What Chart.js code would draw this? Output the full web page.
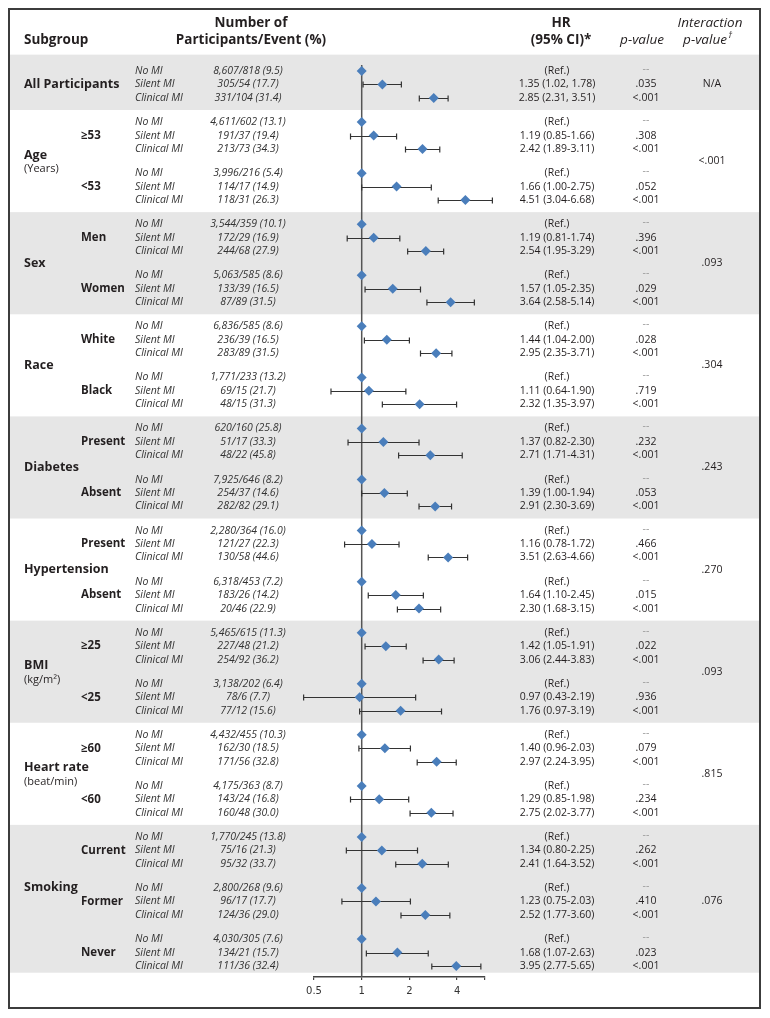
<!DOCTYPE html>
<html>
<head>
<meta charset="utf-8">
<script src="https://cdn.jsdelivr.net/npm/chart.js@4.4.1/dist/chart.umd.min.js"></script>
<style>
  html, body { margin: 0; padding: 0; background: #fff; }
  #wrap { width: 770px; height: 1018px; position: relative; }
</style>
</head>
<body>
<div id="wrap"><canvas id="forest"></canvas></div>
<script>
// --- DATA ---
const sections = ["All Participants", "Age", "Sex", "Race", "Diabetes", "Hypertension", "BMI", "Heart rate", "Smoking"];
const sectionUnits = ["", "(Years)", "", "", "", "", "(kg/m²)", "(beat/min)", ""];
const interactionP = ["N/A", "<.001", ".093", ".304", ".243", ".270", ".093", ".815", ".076"];

const subgroups = ["", "≥53", "<53", "Men", "Women", "White", "Black", "Present", "Absent",
                   "Present", "Absent", "≥25", "<25", "≥60", "<60", "Current", "Former", "Never"];
const subgroupSection = [0, 1, 1, 2, 2, 3, 3, 4, 4, 5, 5, 6, 6, 7, 7, 8, 8, 8];
const miTypes = ["No MI", "Silent MI", "Clinical MI"];

const participants = [
  "8,607/818 (9.5)", "305/54 (17.7)", "331/104 (31.4)",
  "4,611/602 (13.1)", "191/37 (19.4)", "213/73 (34.3)",
  "3,996/216 (5.4)", "114/17 (14.9)", "118/31 (26.3)",
  "3,544/359 (10.1)", "172/29 (16.9)", "244/68 (27.9)",
  "5,063/585 (8.6)", "133/39 (16.5)", "87/89 (31.5)",
  "6,836/585 (8.6)", "236/39 (16.5)", "283/89 (31.5)",
  "1,771/233 (13.2)", "69/15 (21.7)", "48/15 (31.3)",
  "620/160 (25.8)", "51/17 (33.3)", "48/22 (45.8)",
  "7,925/646 (8.2)", "254/37 (14.6)", "282/82 (29.1)",
  "2,280/364 (16.0)", "121/27 (22.3)", "130/58 (44.6)",
  "6,318/453 (7.2)", "183/26 (14.2)", "20/46 (22.9)",
  "5,465/615 (11.3)", "227/48 (21.2)", "254/92 (36.2)",
  "3,138/202 (6.4)", "78/6 (7.7)", "77/12 (15.6)",
  "4,432/455 (10.3)", "162/30 (18.5)", "171/56 (32.8)",
  "4,175/363 (8.7)", "143/24 (16.8)", "160/48 (30.0)",
  "1,770/245 (13.8)", "75/16 (21.3)", "95/32 (33.7)",
  "2,800/268 (9.6)", "96/17 (17.7)", "124/36 (29.0)",
  "4,030/305 (7.6)", "134/21 (15.7)", "111/36 (32.4)"
];

const hazardRatio = [
  1, 1.35, 2.85,  1, 1.19, 2.42,  1, 1.66, 4.51,
  1, 1.19, 2.54,  1, 1.57, 3.64,  1, 1.44, 2.95,
  1, 1.11, 2.32,  1, 1.37, 2.71,  1, 1.39, 2.91,
  1, 1.16, 3.51,  1, 1.64, 2.30,  1, 1.42, 3.06,
  1, 0.97, 1.76,  1, 1.40, 2.97,  1, 1.29, 2.75,
  1, 1.34, 2.41,  1, 1.23, 2.52,  1, 1.68, 3.95
];
const ciLower = [
  null, 1.02, 2.31,  null, 0.85, 1.89,  null, 1.00, 3.04,
  null, 0.81, 1.95,  null, 1.05, 2.58,  null, 1.04, 2.35,
  null, 0.64, 1.35,  null, 0.82, 1.71,  null, 1.00, 2.30,
  null, 0.78, 2.63,  null, 1.10, 1.68,  null, 1.05, 2.44,
  null, 0.43, 0.97,  null, 0.96, 2.24,  null, 0.85, 2.02,
  null, 0.80, 1.64,  null, 0.75, 1.77,  null, 1.07, 2.77
];
const ciUpper = [
  null, 1.78, 3.51,  null, 1.66, 3.11,  null, 2.75, 6.68,
  null, 1.74, 3.29,  null, 2.35, 5.14,  null, 2.00, 3.71,
  null, 1.90, 3.97,  null, 2.30, 4.31,  null, 1.94, 3.69,
  null, 1.72, 4.66,  null, 2.45, 3.15,  null, 1.91, 3.83,
  null, 2.19, 3.19,  null, 2.03, 3.95,  null, 1.98, 3.77,
  null, 2.25, 3.52,  null, 2.03, 3.60,  null, 2.63, 5.65
];
const pValues = [
  "--", ".035", "<.001",  "--", ".308", "<.001",  "--", ".052", "<.001",
  "--", ".396", "<.001",  "--", ".029", "<.001",  "--", ".028", "<.001",
  "--", ".719", "<.001",  "--", ".232", "<.001",  "--", ".053", "<.001",
  "--", ".466", "<.001",  "--", ".015", "<.001",  "--", ".022", "<.001",
  "--", ".936", "<.001",  "--", ".079", "<.001",  "--", ".234", "<.001",
  "--", ".262", "<.001",  "--", ".410", "<.001",  "--", ".023", "<.001"
];

const xTickValues = [0.5, 1, 2, 4];
const xAxisEnd = 6;

// --- LAYOUT HELPERS ---
const GROUP_STRIDE = 3.8;          // 3 rows + gap between subgroups
const rowPos = i => Math.floor(i / 3) * GROUP_STRIDE + (i % 3);
const lastRow = rowPos(hazardRatio.length - 1);

const SANS = '"Open Sans", "Noto Sans", sans-serif';
const INK = "#231f20";

function hrLabel(i) {
  if (ciLower[i] === null) return "(Ref.)";
  const sep = Math.floor(i / 3) === 0 ? ", " : "-";
  return `${hazardRatio[i].toFixed(2)} (${ciLower[i].toFixed(2)}${sep}${ciUpper[i].toFixed(2)})`;
}

function put(ctx, str, x, y, font, align = "left", color = INK) {
  ctx.font = font;
  ctx.fillStyle = color;
  ctx.textAlign = align;
  ctx.textBaseline = "middle";
  ctx.fillText(str, x, y);
}

function sectionGroups(s) {
  return subgroupSection.map((sec, g) => sec === s ? g : -1).filter(g => g >= 0);
}

// --- TABLE PLUGIN ---
const forestTable = {
  id: "forestTable",
  beforeDraw(chart) {
    const { ctx, scales: { y } } = chart;
    ctx.save();
    ctx.fillStyle = "#fff";
    ctx.fillRect(0, 0, chart.width, chart.height);

    // alternating section bands
    sections.forEach((name, s) => {
      if (s % 2) return;
      const groups = sectionGroups(s);
      const first = rowPos(groups[0] * 3);
      const last = rowPos(groups[groups.length - 1] * 3 + 2);
      const top = y.getPixelForValue(s === 0 ? first - 1.22 : first - 0.9);
      const bottom = y.getPixelForValue(s === sections.length - 1 ? last + 0.5 : last + 0.9);
      ctx.fillStyle = "#e6e6e6";
      ctx.fillRect(10, top, 749, bottom - top);
    });

    // frame
    ctx.strokeStyle = "#3c3c3c";
    ctx.lineWidth = 2;
    ctx.strokeRect(9, 9, 751, 999);
    ctx.restore();
  },
  beforeDatasetsDraw(chart) {
    const { ctx, chartArea, scales: { x, y } } = chart;
    ctx.save();
    // reference line at HR = 1
    const x1 = x.getPixelForValue(1);
    ctx.strokeStyle = "#555";
    ctx.lineWidth = 1.5;
    ctx.beginPath();
    ctx.moveTo(x1, chartArea.top);
    ctx.lineTo(x1, chartArea.bottom);
    ctx.stroke();

    // confidence intervals
    ctx.strokeStyle = "#333";
    ctx.lineWidth = 1.2;
    hazardRatio.forEach((v, i) => {
      if (ciLower[i] === null) return;
      const py = Math.round(y.getPixelForValue(rowPos(i))) + 0.5;
      const a = x.getPixelForValue(ciLower[i]);
      const b = x.getPixelForValue(ciUpper[i]);
      ctx.beginPath();
      ctx.moveTo(a, py); ctx.lineTo(b, py);
      ctx.moveTo(a, py - 3); ctx.lineTo(a, py + 3);
      ctx.moveTo(b, py - 3); ctx.lineTo(b, py + 3);
      ctx.stroke();
    });
    ctx.restore();
  },
  afterDraw(chart) {
    const { ctx, scales: { y } } = chart;
    ctx.save();

    // header
    const hBold = `bold 13.5px ${SANS}`, hItal = `italic 13.5px ${SANS}`;
    put(ctx, "Subgroup", 24, 40, hBold);
    put(ctx, "Number of", 251, 23, hBold, "center");
    put(ctx, "Participants/Event (%)", 251, 40, hBold, "center");
    put(ctx, "HR", 561, 23, hBold, "center");
    put(ctx, "(95% CI)*", 561, 40, hBold, "center");
    put(ctx, "p-value", 642, 40, hItal, "center");
    put(ctx, "Interaction", 710, 23, hItal, "center");
    ctx.font = hItal;
    const pw = ctx.measureText("p-value").width;
    put(ctx, "p-value", 705 - pw / 2, 40, hItal, "left");
    put(ctx, "†", 705 + pw / 2 + 1, 35, `italic 9px ${SANS}`, "left");

    // section labels + interaction p
    sections.forEach((name, s) => {
      const groups = sectionGroups(s);
      const mids = groups.map(g => y.getPixelForValue(rowPos(g * 3 + 1)));
      const rowsMid = mids.reduce((a, b) => a + b, 0) / mids.length;
      const mid = groups.length === 3 ? rowsMid - 14 : rowsMid;
      if (sectionUnits[s]) {
        put(ctx, name, 24, mid - 6, `bold 12.5px ${SANS}`);
        put(ctx, sectionUnits[s], 24, mid + 8, `11px ${SANS}`);
      } else {
        put(ctx, name, 24, mid, `bold 12.5px ${SANS}`);
      }
      put(ctx, interactionP[s], 712, rowsMid, `10.5px ${SANS}`, "center");
    });

    // subgroup labels
    subgroups.forEach((lab, g) => {
      if (!lab) return;
      put(ctx, lab, 81, y.getPixelForValue(rowPos(g * 3 + 1)), `bold 11.5px ${SANS}`);
    });

    // row texts
    participants.forEach((p, i) => {
      const py = y.getPixelForValue(rowPos(i));
      put(ctx, miTypes[i % 3], 135, py, `italic 10.5px ${SANS}`, "left", "#333");
      put(ctx, p, 248, py, `italic 10.5px ${SANS}`, "center", "#333");
      put(ctx, hrLabel(i), 557, py, `10.5px ${SANS}`, "center");
      if (pValues[i] === "--") {
        put(ctx, "--", 646, py - 2, `10.5px ${SANS}`, "center", "#999");
      } else {
        put(ctx, pValues[i], 646, py, `10.5px ${SANS}`, "center");
      }
    });
    ctx.restore();
  }
};

// --- CHART ---
new Chart(document.getElementById("forest"), {
  type: "scatter",
  data: {
    datasets: [{
      data: hazardRatio.map((v, i) => ({ x: v, y: rowPos(i) })),
      pointStyle: "rectRot",
      pointRadius: 5,
      pointHoverRadius: 5,
      backgroundColor: "#4a7ebb",
      borderWidth: 0,
      clip: false
    }]
  },
  options: {
    responsive: true,
    maintainAspectRatio: false,
    animation: false,
    events: [],
    layout: { padding: { left: 314, right: 285, top: 65, bottom: 11 } },
    plugins: { legend: { display: false }, tooltip: { enabled: false } },
    scales: {
      x: {
        type: "logarithmic",
        min: xTickValues[0],
        max: xAxisEnd,
        afterBuildTicks: scale => {
          scale.ticks = xTickValues.concat([xAxisEnd]).map(v => ({ value: v }));
        },
        afterFit: scale => { scale.height = 30; },
        ticks: {
          autoSkip: false,
          maxRotation: 0,
          padding: 5,
          color: "#333",
          font: { family: "DejaVu Sans", size: 10 },
          callback: v => xTickValues.includes(v) ? String(v) : ""
        },
        grid: { drawOnChartArea: false, drawTicks: true, tickLength: 3, color: "#444", lineWidth: 1.2 },
        border: { display: true, color: "#444", width: 1.5 }
      },
      y: {
        type: "linear",
        display: false,
        reverse: true,
        min: -0.45,
        max: lastRow + 0.82
      }
    }
  },
  plugins: [forestTable]
});
</script>
</body>
</html>
